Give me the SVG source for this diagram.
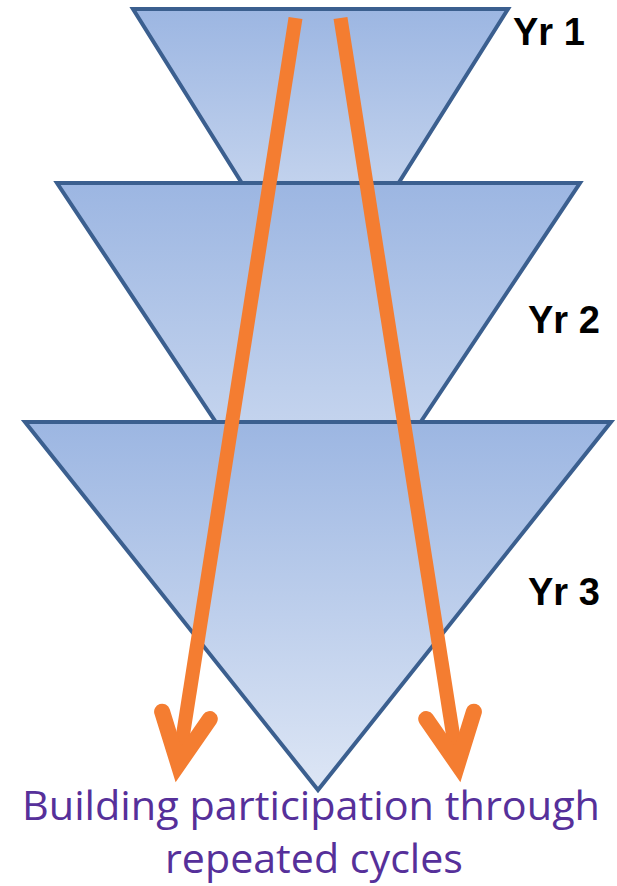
<svg xmlns="http://www.w3.org/2000/svg" width="617" height="886" viewBox="0 0 617 886">
  <style>
    .tri { stroke: #3B5F8F; stroke-width: 4; stroke-linejoin: miter; fill: url(#blueGrad); }
    .shaft { stroke: #F47D31; stroke-width: 14; fill: none; stroke-linecap: butt; }
    .head { stroke: #F47D31; stroke-width: 16; fill: none; stroke-linecap: round; stroke-linejoin: miter; stroke-miterlimit: 6; }
    .yr { font-family: "Liberation Sans", Arial, sans-serif; font-weight: bold; font-size: 38px; fill: #000000; }
    .caption { font-family: "Open Sans", "Noto Sans", sans-serif; font-size: 41px; fill: #56309A; text-anchor: middle; }
  </style>
  <defs>
    <linearGradient id="blueGrad" x1="0" y1="0" x2="0" y2="1">
      <stop offset="0" stop-color="#9CB6E2"/>
      <stop offset="1" stop-color="#DDE6F5"/>
    </linearGradient>
  </defs>
  <rect width="617" height="886" fill="#FFFFFF"/>
  <g id="yr1">
    <polygon class="tri" points="133,9 508,9 320,308"/>
    <text class="yr" x="513" y="45">Yr 1</text>
  </g>
  <g id="yr2">
    <polygon class="tri" points="57,183 580,183 318,576"/>
    <text class="yr" x="528" y="333">Yr 2</text>
  </g>
  <g id="yr3">
    <polygon class="tri" points="25,422 611,422 318,790"/>
    <text class="yr" x="528" y="605">Yr 3</text>
  </g>
  <g id="connectors">
    <line class="shaft" x1="295.5" y1="18" x2="178.4" y2="764"/>
    <polyline class="head" points="162.1,711.7 178.4,764.2 209.8,719"/>
    <line class="shaft" x1="340.5" y1="18" x2="457.6" y2="764"/>
    <polyline class="head" points="473.9,711.7 457.6,764.2 426.2,719"/>
  </g>
  <g id="caption">
    <text class="caption" x="311" y="820" textLength="578" lengthAdjust="spacingAndGlyphs">Building participation through</text>
    <text class="caption" x="314" y="873" textLength="298" lengthAdjust="spacingAndGlyphs">repeated cycles</text>
  </g>
</svg>
